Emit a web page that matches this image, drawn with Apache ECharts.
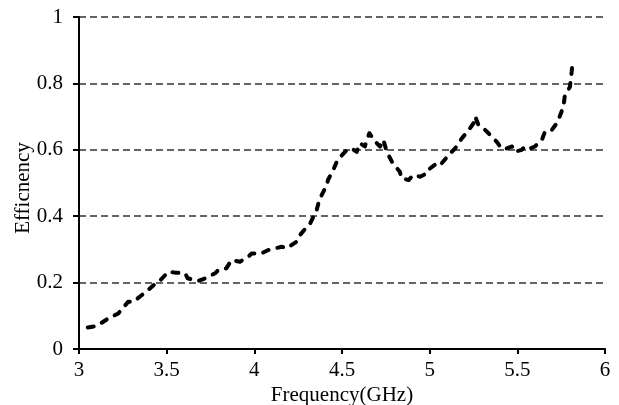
<!DOCTYPE html>
<html><head><meta charset="utf-8">
<script src="https://cdn.jsdelivr.net/npm/echarts@6/dist/echarts.min.js"></script>
<style>html,body{margin:0;padding:0;background:#fff}#c{width:619px;height:405px}</style>
</head><body><div id="c"></div>
<script>
const freq = [3.05,3.10,3.167,3.224,3.28,3.31,3.348,3.395,3.443,3.46,3.51,3.55,3.605,3.62,3.68,3.72,3.776,3.795,3.84,3.87,3.918,3.966,3.985,4.04,4.08,4.156,4.185,4.24,4.26,4.30,4.318,4.356,4.37,4.413,4.42,4.45,4.47,4.50,4.527,4.555,4.584,4.603,4.63,4.656,4.67,4.698,4.717,4.736,4.755,4.79,4.83,4.84,4.88,4.907,4.945,4.983,4.99,5.04,5.06,5.116,5.145,5.183,5.20,5.23,5.25,5.26,5.278,5.316,5.335,5.364,5.383,5.41,5.44,5.47,5.487,5.525,5.544,5.573,5.60,5.64,5.658,5.697,5.725,5.734,5.763,5.77,5.79,5.80,5.81,5.816];
const efficiency = [0.065,0.069,0.092,0.107,0.142,0.142,0.158,0.178,0.200,0.205,0.233,0.230,0.228,0.213,0.205,0.213,0.228,0.238,0.243,0.268,0.263,0.278,0.288,0.288,0.298,0.308,0.303,0.323,0.343,0.368,0.378,0.419,0.449,0.494,0.509,0.539,0.564,0.584,0.599,0.604,0.594,0.620,0.610,0.650,0.640,0.620,0.610,0.630,0.594,0.559,0.534,0.514,0.509,0.524,0.519,0.529,0.539,0.559,0.554,0.589,0.604,0.634,0.645,0.665,0.680,0.700,0.675,0.660,0.650,0.634,0.624,0.604,0.604,0.610,0.594,0.600,0.610,0.604,0.610,0.630,0.655,0.660,0.680,0.690,0.730,0.760,0.780,0.790,0.835,0.870];
const xTicks = [3,3.5,4,4.5,5,5.5,6];
const yTicks = [0,0.2,0.4,0.6,0.8,1];

const chart = echarts.init(document.getElementById('c'));
const font = 'Liberation Serif';
chart.setOption({
  animation: false,
  grid: {left: 79, right: 14, top: 17, bottom: 56, containLabel: false, outerBoundsMode: 'none'},
  xAxis: {
    type: 'value', min: 3, max: 6, interval: 0.5,
    name: 'Frequency(GHz)', nameLocation: 'middle', nameGap: 36, nameMoveOverlap: false,
    nameTextStyle: {fontFamily: font, fontSize: 21, color: '#000'},
    axisLine: {lineStyle: {color: '#000', width: 2}},
    axisTick: {show: true, length: 5, lineStyle: {color: '#000', width: 2}},
    axisLabel: {fontFamily: font, fontSize: 21, color: '#000', margin: 11,
      formatter: v => xTicks.some(t => Math.abs(t - v) < 1e-9) ? String(v) : ''},
    splitLine: {show: false}
  },
  yAxis: {
    type: 'value', min: 0, max: 1, interval: 0.2,
    name: 'Efficnency', nameLocation: 'middle', nameGap: 45, nameRotate: 90, nameMoveOverlap: false,
    nameTextStyle: {fontFamily: font, fontSize: 21, color: '#000', padding: [0, 10, 0, 0]},
    axisLine: {show: true, lineStyle: {color: '#000', width: 2}},
    axisTick: {show: true, length: 6, lineStyle: {color: '#000', width: 2}},
    axisLabel: {fontFamily: font, fontSize: 21, color: '#000', margin: 16,
      formatter: v => yTicks.some(t => Math.abs(t - v) < 1e-9) ? String(+v.toFixed(1)) : ''},
    splitLine: {show: true, lineStyle: {color: '#333', width: 1.5, type: [7, 4]}}
  },
  series: [{
    type: 'line', data: freq.map((f, i) => [f, efficiency[i]]),
    showSymbol: false, smooth: false,
    lineStyle: {color: '#000', width: 4, type: [6, 9], cap: 'round', join: 'round'}
  }]
});
</script></body></html>
